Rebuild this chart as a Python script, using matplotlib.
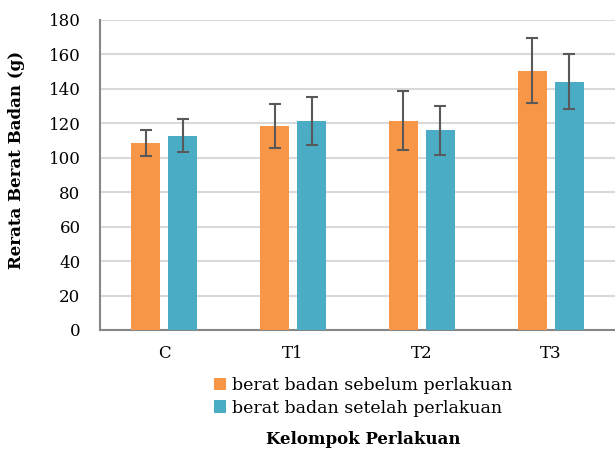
import matplotlib
matplotlib.use("Agg")
import matplotlib.pyplot as plt
import numpy as np

categories = ["C", "T1", "T2", "T3"]
before = [108.7, 118.4, 121.6, 150.6]
before_sd = [7.5, 12.6, 17.2, 18.9]
after = [112.8, 121.3, 116.1, 144.2]
after_sd = [9.6, 14.0, 14.2, 16.0]
series_names = ["berat badan sebelum perlakuan", "berat badan setelah perlakuan"]
yticks = [0, 20, 40, 60, 80, 100, 120, 140, 160, 180]

plt.rcParams['font.family'] = ['DejaVu Serif']

fig = plt.figure(figsize=(6.15, 4.54), dpi=100)
ax = fig.add_axes([100/615, 1-330/454, 515/615, 310/454])

x = np.arange(len(categories))
w = 0.225
off = 0.143
err_kw = dict(ecolor="#595959", elinewidth=1.5, capsize=4.5, capthick=1.5)
b1 = ax.bar(x - off, before, w, yerr=before_sd, color="#F79646", error_kw=err_kw,
            label=series_names[0], zorder=3)
b2 = ax.bar(x + off, after, w, yerr=after_sd, color="#4BACC6", error_kw=err_kw,
            label=series_names[1], zorder=3)

ax.set_xlim(-0.5, 3.5)
ax.set_ylim(0, 180)
ax.set_yticks(yticks)
ax.set_xticks(x)
ax.set_xticklabels(categories)
ax.tick_params(axis="both", length=0, labelsize=12, colors="#000000")
ax.tick_params(axis="x", pad=11)
ax.tick_params(axis="y", pad=14)
ax.yaxis.grid(True, color="#D9D9D9", linewidth=1.5, zorder=0)
ax.set_axisbelow(True)
for s in ["top", "right"]:
    ax.spines[s].set_visible(False)
for s in ["left", "bottom"]:
    ax.spines[s].set_color("#868686")
    ax.spines[s].set_linewidth(1.5)

fig.text(17/615, 1-160/454, "Rerata Berat Badan (g)", rotation=90, fontsize=12,
         fontweight="bold", ha="center", va="center")
fig.text(363/615, 1-440/454, "Kelompok Perlakuan", fontsize=12,
         fontweight="bold", ha="center", va="center")

leg = fig.legend(handles=[b1, b2], labels=series_names, loc="center left",
                 bbox_to_anchor=(205/615, 1-397/454), frameon=False, fontsize=12.5,
                 handlelength=0.7, handleheight=0.7, handletextpad=0.35,
                 labelspacing=0.3, borderpad=0)

fig.savefig("out.png", dpi=100)
